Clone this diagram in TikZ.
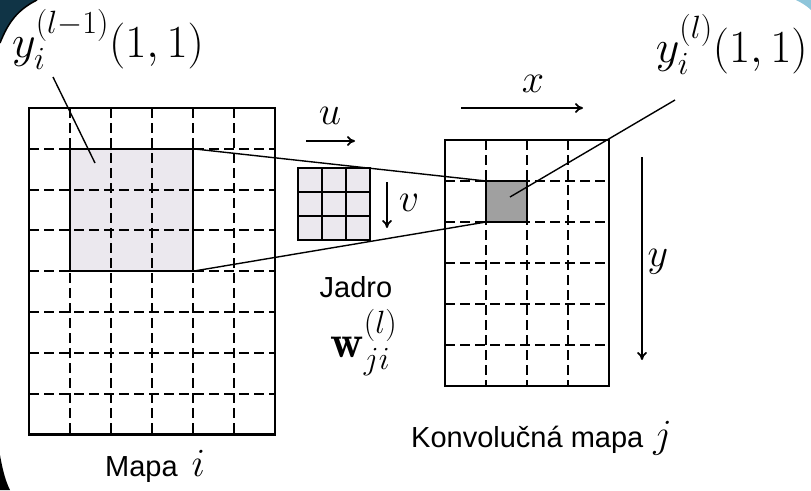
\RequirePackage{fix-cm}
\documentclass[tikz,border=0pt]{standalone}
\usepackage{amsmath,amssymb}
\usepackage{fontspec}
\usepackage{xcolor}
\usetikzlibrary{positioning}
\usetikzlibrary{arrows.meta}
\usetikzlibrary{calc}
\newfontfamily\labelfont{Liberation Sans}
\definecolor{patchcolor}{RGB}{235,232,238}
\definecolor{cellcolor}{RGB}{160,160,160}
\definecolor{screencolor}{RGB}{16,52,70}
\definecolor{skycolor}{RGB}{142,197,218}

\begin{document}
\begin{tikzpicture}[
    x=1pt, y=-1pt,
    mapbox/.style={rectangle, draw, line width=2.2pt, inner sep=0pt, outer sep=0pt},
    patch/.style={mapbox, fill=patchcolor},
    darkcell/.style={mapbox, fill=cellcolor},
    gridline/.style={line width=2pt, dash pattern=on 10pt off 5pt},
    kernelline/.style={line width=2pt},
    arrow/.style={-{To[length=8pt,width=10pt]}, line width=1.8pt},
    pointer/.style={line width=1.4pt},
    mathlabel/.style={font=\fontsize{46}{48}\selectfont, inner sep=0pt},
    axislabel/.style={font=\fontsize{40}{42}\selectfont, inner sep=0pt},
    textlabel/.style={font=\labelfont\fontsize{29}{31}\selectfont, inner sep=0pt}
]
\useasboundingbox (0,0) rectangle (811,490);
\fill[white] (0,0) rectangle (811,490);
% screen corners
\fill[screencolor] (0,0) -- (37,0) .. controls (17,10) and (8,23) .. (0,43) -- cycle;
\draw[line width=1.5pt] (37,0) .. controls (17,10) and (8,23) .. (0,43);
\fill[black] (0,455) .. controls (3,472) and (6,482) .. (10,490) -- (0,490) -- cycle;
\fill[skycolor] (796,0) .. controls (802,3) and (807,6) .. (811,10) -- (811,0) -- cycle;

% Mapa i
\node[mapbox, minimum width=246pt, minimum height=326.4pt] (mapi) at (152,271.2) {};
\node[patch, minimum width=123pt, minimum height=122.4pt] (patch) at (131.5,210) {};
\foreach \c in {1,...,5}
    \draw[gridline] ($(mapi.north west)+(41*\c,0)$) -- ($(mapi.south west)+(41*\c,0)$);
\foreach \r in {1,...,7}
    \draw[gridline] ($(mapi.north west)+(0,40.8*\r)$) -- ($(mapi.north east)+(0,40.8*\r)$);

% Konvolucna mapa j
\node[mapbox, minimum width=164pt, minimum height=246pt] (mapj) at (527,263) {};
\node[darkcell, minimum width=41pt, minimum height=41pt] (cell) at (506.5,201.5) {};
\foreach \c in {1,...,3}
    \draw[gridline] ($(mapj.north west)+(41*\c,0)$) -- ($(mapj.south west)+(41*\c,0)$);
\foreach \r in {1,...,5}
    \draw[gridline] ($(mapj.north west)+(0,41*\r)$) -- ($(mapj.north east)+(0,41*\r)$);
\node[darkcell, minimum width=41pt, minimum height=41pt] at (cell) {};

% Jadro
\node[patch, minimum width=72pt, minimum height=72pt] (kernel) at (334,204) {};
\foreach \k in {1,2} {
    \draw[kernelline] ($(kernel.north west)+(24*\k,0)$) -- ($(kernel.south west)+(24*\k,0)$);
    \draw[kernelline] ($(kernel.north west)+(0,24*\k)$) -- ($(kernel.north east)+(0,24*\k)$);
}

\draw[pointer] (patch.north east) -- (cell.north west);
\draw[pointer] (patch.south east) -- (cell.south west);

% Annotations
\node[mathlabel, anchor=base west] (yin) at (12,57) {$y_i^{(l-1)}(1,1)$};
\node[mathlabel, anchor=base east] (yout) at (808,62) {$y_i^{(l)}(1,1)$};
\coordinate (yin tail) at (53,77);
\coordinate (yin head) at (95,163);
\coordinate (yout tail) at (675,100);
\coordinate (yout head) at (510,197);
\draw[pointer] (yin tail) -- (yin head);
\draw[pointer] (yout tail) -- (yout head);

\node[axislabel] (ulabel) at (330,116) {$u$};
\node[axislabel] (vlabel) at (409,203) {$v$};
\node[axislabel] (xlabel) at (533,84) {$x$};
\node[axislabel] (ylabel) at (658,262) {$y$};
\draw[arrow] (306,141) -- (355,141);
\draw[arrow] (387,182) -- (387,228);
\draw[arrow] (461,108) -- (583,108);
\draw[arrow] (642,157) -- (642,360);

\node[textlabel, anchor=base] (jadro) at (356,297) {Jadro};
\node[mathlabel, anchor=base] (weight) at (364,357) {$\mathbf{w}_{ji}^{(l)}$};
\node[textlabel, anchor=base west] (jlabel) at (411,447) {Konvolučná mapa\hspace{10pt}{\fontsize{40}{42}\selectfont$j$}};
\node[textlabel, anchor=base west] (ilabel) at (105,476) {Mapa\hspace{14pt}{\fontsize{40}{42}\selectfont$i$}};
\end{tikzpicture}
\end{document}
